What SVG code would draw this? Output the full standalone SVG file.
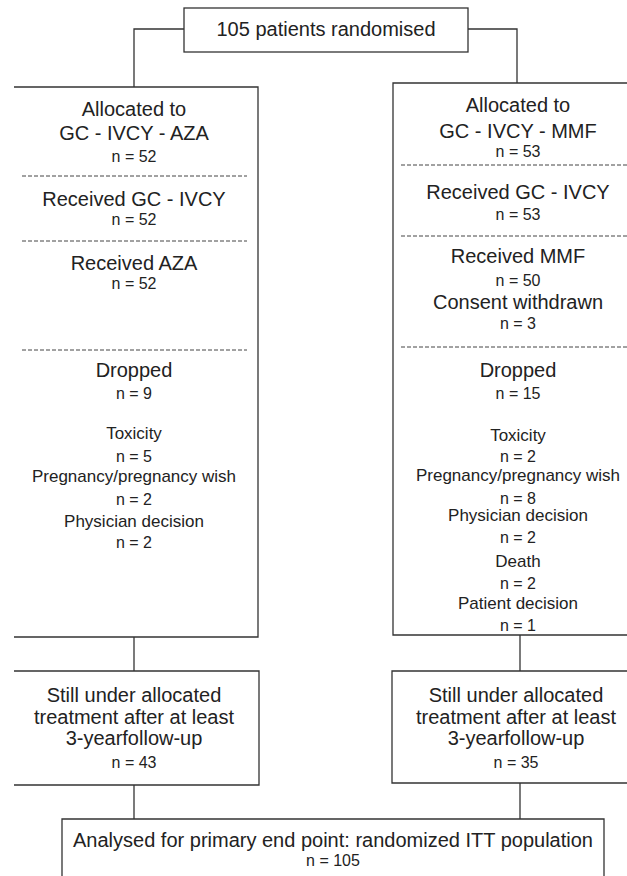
<svg xmlns="http://www.w3.org/2000/svg" width="627" height="876" viewBox="0 0 627 876">
<style>
.b{fill:none;stroke:#333;stroke-width:1.3}
.c{fill:none;stroke:#333;stroke-width:1.3}
.d{fill:none;stroke:#444;stroke-width:1;stroke-dasharray:4 2}
text{font-family:"Liberation Sans",Arial,sans-serif;fill:#222;text-anchor:middle}
.m{font-size:20px}
.s{font-size:17px}
.n{font-size:16px}
</style>
<rect width="627" height="876" fill="#fff"/>
<g id="connectors">
<path class="c" d="M184 29H134V87"/>
<path class="c" d="M468 29H517V83"/>
<path class="c" d="M134 637V671"/>
<path class="c" d="M520 635V671"/>
<path class="c" d="M134 785V819"/>
<path class="c" d="M520 783V819"/>
</g>
<g id="randomised">
<rect class="b" x="184" y="8" width="284" height="44"/>
<text class="m" x="326" y="36">105 patients randomised</text>
</g>
<g id="arm-aza">
<path class="b" d="M14 87H258V637H14"/>
<text class="m" x="134" y="116">Allocated to</text>
<text class="m" x="134" y="140">GC - IVCY - AZA</text>
<text class="n" x="134" y="162">n = 52</text>
<line class="d" x1="22" y1="176" x2="247" y2="176"/>
<text class="m" x="134" y="206">Received GC - IVCY</text>
<text class="n" x="134" y="225">n = 52</text>
<line class="d" x1="22" y1="241" x2="247" y2="241"/>
<text class="m" x="134" y="270">Received AZA</text>
<text class="n" x="134" y="289">n = 52</text>
<line class="d" x1="22" y1="350" x2="247" y2="350"/>
<text class="m" x="134" y="377">Dropped</text>
<text class="n" x="134" y="399">n = 9</text>
<text class="s" x="134" y="439">Toxicity</text>
<text class="n" x="134" y="462">n = 5</text>
<text class="s" x="134" y="482">Pregnancy/pregnancy wish</text>
<text class="n" x="134" y="505">n = 2</text>
<text class="s" x="134" y="527">Physician decision</text>
<text class="n" x="134" y="548">n = 2</text>
</g>
<g id="arm-mmf">
<path class="b" d="M650 83H393V635H650"/>
<text class="m" x="518" y="112">Allocated to</text>
<text class="m" x="518" y="138">GC - IVCY - MMF</text>
<text class="n" x="518" y="157">n = 53</text>
<line class="d" x1="401" y1="165" x2="640" y2="165"/>
<text class="m" x="518" y="199">Received GC - IVCY</text>
<text class="n" x="518" y="220">n = 53</text>
<line class="d" x1="401" y1="236" x2="640" y2="236"/>
<text class="m" x="518" y="263">Received MMF</text>
<text class="n" x="518" y="286">n = 50</text>
<text class="m" x="518" y="309">Consent withdrawn</text>
<text class="n" x="518" y="329">n = 3</text>
<line class="d" x1="401" y1="347" x2="640" y2="347"/>
<text class="m" x="518" y="377">Dropped</text>
<text class="n" x="518" y="399">n = 15</text>
<text class="s" x="518" y="441">Toxicity</text>
<text class="n" x="518" y="462">n = 2</text>
<text class="s" x="518" y="481">Pregnancy/pregnancy wish</text>
<text class="n" x="518" y="504">n = 8</text>
<text class="s" x="518" y="521">Physician decision</text>
<text class="n" x="518" y="543">n = 2</text>
<text class="s" x="518" y="567">Death</text>
<text class="n" x="518" y="589">n = 2</text>
<text class="s" x="518" y="609">Patient decision</text>
<text class="n" x="518" y="631">n = 1</text>
</g>
<g id="still-aza">
<path class="b" d="M14 671H259V785H14"/>
<text class="m" x="134" y="702">Still under allocated</text>
<text class="m" x="134" y="724">treatment after at least</text>
<text class="m" x="134" y="745">3-yearfollow-up</text>
<text class="n" x="134" y="768">n = 43</text>
</g>
<g id="still-mmf">
<path class="b" d="M650 671H392V783H650"/>
<text class="m" x="516" y="702">Still under allocated</text>
<text class="m" x="516" y="724">treatment after at least</text>
<text class="m" x="516" y="745">3-yearfollow-up</text>
<text class="n" x="516" y="768">n = 35</text>
</g>
<g id="analysed">
<path class="b" d="M62 890V819H604V890"/>
<text class="m" x="333" y="847">Analysed for primary end point: randomized ITT population</text>
<text class="n" x="333" y="866">n = 105</text>
</g>
</svg>
